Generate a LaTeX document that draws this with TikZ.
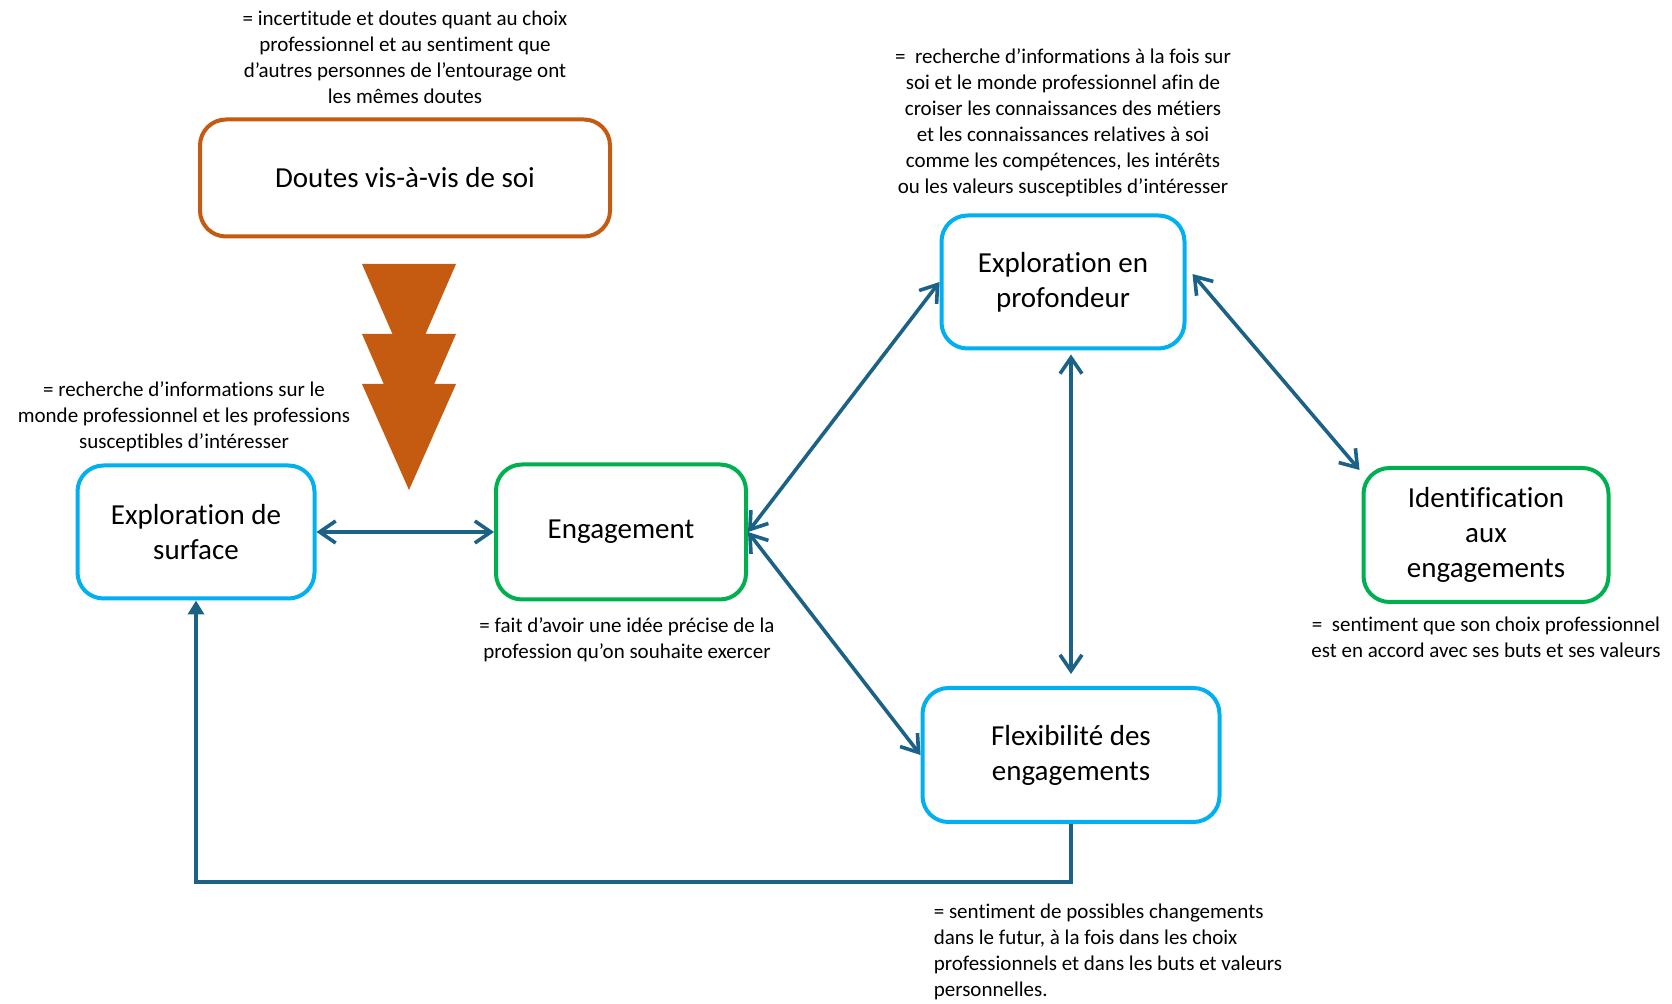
\documentclass[tikz,border=0pt]{standalone}
\usepackage{fontspec}
\setmainfont{Carlito}[Ligatures=NoCommon]
\usetikzlibrary{arrows.meta}
\definecolor{boxblue}{HTML}{00B0F0}
\definecolor{boxgreen}{HTML}{00B050}
\definecolor{boxorange}{HTML}{C55A11}
\definecolor{linkblue}{HTML}{1B6286}
\newcommand{\boxfont}{\fontsize{14.5}{17.5}\selectfont}
\newcommand{\notefont}{\fontsize{10.5}{13}\selectfont}
\tikzstyle{recNode} = [rectangle, rounded corners=13pt, line width=2pt, align=center, font=\boxfont, fill=white]
\tikzstyle{blueNode} = [recNode, draw=boxblue]
\tikzstyle{greenNode} = [recNode, draw=boxgreen]
\tikzstyle{orangeNode} = [recNode, draw=boxorange]
\tikzstyle{eNode} = [align=center, font=\notefont, inner sep=0pt]
\tikzstyle{arrow} = [line width=1.8pt, draw=linkblue, <->, >={Straight Barb[length=8pt,width=11pt]}]

\begin{document}
\begin{tikzpicture}[node distance=100pt]
        \useasboundingbox (0,0) rectangle (836pt,-502pt);

        \node (surface) [blueNode, minimum width=118.5pt, minimum height=66.5pt] at (98pt,-266pt) {Exploration de\\surface};
        \node (engage) [greenNode, right of=surface, xshift=112.5pt, minimum width=125pt, minimum height=67.5pt] {Engagement};
        \node (doutes) [orangeNode, above of=surface, xshift=104.5pt, yshift=77pt, minimum width=205pt, minimum height=58.5pt] {Doutes vis-à-vis de soi};
        \node (profond) [blueNode, right of=engage, xshift=121pt, yshift=125pt, minimum width=121.5pt, minimum height=66.5pt] {Exploration en\\profondeur};
        \node (flex) [blueNode, below of=profond, xshift=4pt, yshift=-136.5pt, minimum width=148.5pt, minimum height=67pt] {Flexibilité des\\engagements};
        \node (ident) [greenNode, right of=profond, xshift=111.5pt, yshift=-126.5pt, minimum width=122.5pt, minimum height=67pt] {Identification\\aux\\engagements};

        % definitions
        \node (doutesTxt) [eNode, above of=doutes, yshift=-39.5pt] {= incertitude et doutes quant au choix\\professionnel et au sentiment que\\d’autres personnes de l’entourage ont\\les mêmes doutes};
        \node (surfaceTxt) [eNode, above of=surface, xshift=-6pt, yshift=-42.5pt] {= recherche d’informations sur le\\monde professionnel et les professions\\susceptibles d’intéresser};
        \node (engageTxt) [eNode, below of=engage, xshift=3pt, yshift=46pt] {= fait d’avoir une idée précise de la\\profession qu’on souhaite exercer};
        \node (profondTxt) [eNode, above of=profond, yshift=-20.5pt] {=~ recherche d’informations à la fois sur\\soi et le monde professionnel afin de\\croiser les connaissances des métiers\\et les connaissances relatives à soi\\comme les compétences, les intérêts\\ou les valeurs susceptibles d’intéresser};
        \node (identTxt) [eNode, below of=ident, yshift=49pt] {=~ sentiment que son choix professionnel\\est en accord avec ses buts et ses valeurs};
        \node (flexTxt) [eNode, align=left, below of=flex, xshift=18.5pt, yshift=1.5pt] {= sentiment de possibles changements\\dans le futur, à la fois dans les choix\\professionnels et dans les buts et valeurs\\personnelles.};

        % push of the doubts
        \fill [boxorange] (181pt,-132pt) -- (228pt,-132pt) -- (204.5pt,-186pt) -- cycle;
        \fill [boxorange] (181pt,-167pt) -- (228pt,-167pt) -- (204.5pt,-221pt) -- cycle;
        \fill [boxorange] (181pt,-192pt) -- (228pt,-192pt) -- (204.5pt,-245pt) -- cycle;

        \draw [arrow] (surface) -- (engage);
        \draw [arrow] (engage.east) -- (profond.west);
        \draw [arrow] (engage.east) -- (flex.west);
        \draw [arrow, shorten <=2pt, shorten >=6pt] (profond.south -| flex.north) -- (flex.north);
        \draw [arrow] ([xshift=3pt,yshift=4pt]profond.east) -- ([xshift=-1pt,yshift=-2pt]ident.north west);
        \draw [line width=1.8pt, draw=linkblue, -{Triangle[length=7pt,width=8pt]}] (flex.south) -- ++(0,-29pt) -| (surface.south);
    \end{tikzpicture}
\end{document}
